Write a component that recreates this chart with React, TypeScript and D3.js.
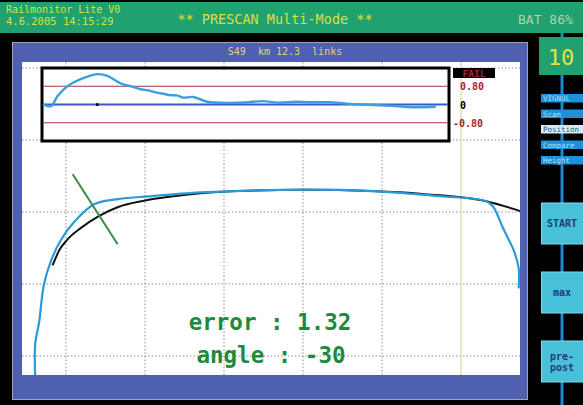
import * as d3 from "d3";

const W = 583;
const H = 405;

// top inset: deviation along the scan (x in % of scan, deviation in mm)
const devPos = [0, 2, 3.6, 6.1, 9.3, 13.4, 15.9, 19.2, 22, 24.1, 26, 28.2, 30, 31.4, 33, 34.6, 37.1, 40.5, 46.2, 50, 54.3, 58, 62.6, 66, 70.8, 74.9, 78.9, 83, 87.1, 91.2, 97];
const devVal = [0, -0.07, 0.37, 0.81, 1.11, 1.33, 1.26, 0.92, 0.78, 0.67, 0.62, 0.52, 0.46, 0.41, 0.4, 0.3, 0.33, 0.12, 0.07, 0.09, 0.15, 0.08, 0.12, 0.1, 0.1, 0.04, 0, -0.03, -0.07, -0.12, -0.1];
const devLimits = [0.8, -0.8];
const devLabels = ["0.80", "0", "-0.80"];

// main profile: reference (black) and measured (blue), mm
const refX = [-1.7, -1.5, -0.9, 0.2, 1.9, 4.1, 6.6, 10, 15.2, 21.5, 30.1, 38.7, 45.1, 53.2, 57.6];
const refY = [-7.4, -6.9, -5.4, -3.8, -2.2, -0.6, 0.7, 1.6, 2.4, 2.9, 3.1, 2.9, 2.5, 1.5, 0.1];
const measX = [-3.9, -3.9, -3.4, -2.8, -1.9, -0.7, 1.1, 3.6, 6.6, 10.9, 15.2, 21.5, 30.1, 38.7, 47.2, 53.2, 54.1, 55.3, 56.7, 57.3, 57.3];
const measY = [-22.8, -18.3, -15.3, -10.1, -6.8, -4, -1.3, 1.1, 1.8, 2.2, 2.6, 2.9, 3.1, 2.9, 2.2, 1.5, 0.7, -2.2, -5.4, -7.8, -10.6];

// angle marker (green)
const markerX = [0.85, 6.54];
const markerY = [5.24, -4.49];

const gridX = [0, 10, 20, 30, 40];
const markX = 50;
const gridY = [20, 10, 0, -10, -20];

const menuItems = ["VIGNOL", "Scan", "Position", "Compare", "Height"];
const buttons = [["START"], ["max"], ["pre-", "post"]];

const mono = "'DejaVu Sans Mono', monospace";

export default function App() {
  const x = d3.scaleLinear().domain([0, 60]).range([66, 540]);
  const y = d3.scaleLinear().domain([-20, 20]).range([356, 68]);

  const ix = d3.scaleLinear().domain([0, 100]).range([43, 448]);
  const iy = d3.scaleLinear().domain([-1.6, 1.6]).range([141, 68]);

  const line = d3.line<[number, number]>().x((d) => x(d[0])).y((d) => y(d[1])).curve(d3.curveMonotoneX);
  const lineY = d3.line<[number, number]>().x((d) => x(d[0])).y((d) => y(d[1])).curve(d3.curveCatmullRom);
  const devLine = d3.line<[number, number]>().x((d) => ix(d[0])).y((d) => iy(d[1])).curve(d3.curveCatmullRom);

  const refPts = refX.map((v, i) => [v, refY[i]] as [number, number]);
  const measPts = measX.map((v, i) => [v, measY[i]] as [number, number]);
  const devPts = devPos.map((v, i) => [v, devVal[i]] as [number, number]);

  return (
    <svg width={W} height={H} style={{ position: "absolute", left: 0, top: 0, background: "#000" }} fontFamily={mono}>
      <defs>
        <clipPath id="plot">
          <rect x={22} y={62} width={498} height={313} />
        </clipPath>
      </defs>

      {/* header */}
      <rect x={0} y={2} width={W} height={31} fill="#21a070" />
      <text x={6} y={13} fontSize={10} fill="#d8e040">Railmonitor Lite V0</text>
      <text x={6} y={25} fontSize={10.5} fill="#d8e040">4.6.2005 14:15:29</text>
      <text x={275} y={24} fontSize={13.5} fill="#d8e040" textAnchor="middle">** PRESCAN Multi-Mode **</text>
      <text x={518} y={24} fontSize={13} fill="#a8d8a8">BAT 86%</text>

      {/* main panel */}
      <rect x={12.5} y={42.5} width={515} height={357} fill="#5060b0" stroke="#a0a4b4" />
      <text x={285} y={55} fontSize={10} fill="#e0d080" textAnchor="middle" xmlSpace="preserve">S49  km 12.3  links</text>
      <rect x={22} y={62} width={498} height={313} fill="#fff" />

      <g clipPath="url(#plot)">
        {gridX.map((g) => (
          <line key={"gx" + g} x1={x(g)} x2={x(g)} y1={62} y2={375} stroke="#8a8fa0" strokeDasharray="1.5,2" />
        ))}
        {gridY.map((g) => (
          <line key={"gy" + g} x1={22} x2={520} y1={y(g)} y2={y(g)} stroke="#8a8fa0" strokeDasharray="1.5,2" />
        ))}
        <line x1={x(markX)} x2={x(markX)} y1={62} y2={375} stroke="#e4dcae" strokeWidth={1.5} />

        <path d={line(refPts) ?? ""} fill="none" stroke="#111" strokeWidth={2} />
        <path d={lineY(measPts) ?? ""} fill="none" stroke="#2a9ad8" strokeWidth={2.2} />
        <line x1={x(markerX[0])} y1={y(markerY[0])} x2={x(markerX[1])} y2={y(markerY[1])} stroke="#3a8a44" strokeWidth={2} />

        <text x={270} y={330} fontSize={22.5} fontWeight="bold" fill="#1d8a3c" textAnchor="middle" xmlSpace="preserve">error : 1.32</text>
        <text x={271} y={363} fontSize={22.5} fontWeight="bold" fill="#1d8a3c" textAnchor="middle" xmlSpace="preserve">angle : -30</text>
      </g>

      {/* deviation inset */}
      <rect x={42} y={68} width={407} height={73} fill="#fff" stroke="#000" strokeWidth={3} />
      {devLimits.map((l) => (
        <line key={"lim" + l} x1={43} x2={448} y1={iy(l)} y2={iy(l)} stroke="#b03040" strokeWidth={1} />
      ))}
      <line x1={43} x2={448} y1={iy(0)} y2={iy(0)} stroke="#3a5ac8" strokeWidth={2} />
      <circle cx={ix(13.4)} cy={iy(0)} r={1.5} fill="#000" />
      <path d={devLine(devPts) ?? ""} fill="none" stroke="#3aa0dc" strokeWidth={2.4} />

      <rect x={453} y={68} width={42} height={10} fill="#000" />
      <text x={474} y={76.5} fontSize={9.5} fontWeight="bold" fill="#b02030" textAnchor="middle">FAIL</text>
      <text x={460} y={iy(devLimits[0]) + 4} fontSize={10} fontWeight="bold" fill="#b02030">{devLabels[0]}</text>
      <text x={460} y={iy(0) + 4} fontSize={10} fontWeight="bold" fill="#000">{devLabels[1]}</text>
      <text x={453} y={iy(devLimits[1]) + 4} fontSize={10} fontWeight="bold" fill="#b02030">{devLabels[2]}</text>

      {/* side bar */}
      <line x1={562} x2={562} y1={33} y2={H} stroke="#1e88d0" strokeWidth={3} />
      <rect x={539} y={37} width={44} height={38} fill="#21a070" />
      <text x={561} y={65} fontSize={22} fill="#e8e040" textAnchor="middle">10</text>

      {menuItems.map((m, i) => (
        <g key={m}>
          <rect x={541} y={94 + i * 15.5} width={42} height={8.5} fill={i === 2 ? "#dde8f2" : "#2090d8"} />
          <text x={543} y={101 + i * 15.5} fontSize={7.5} fill={i === 2 ? "#2060a0" : "#a0e0f8"}>{m}</text>
        </g>
      ))}

      {buttons.map((b, i) => {
        const top = 203 + i * 69;
        return (
          <g key={b.join("")}>
            <rect x={541.5} y={top} width={42} height={41} fill="#48c0d8" stroke="#80d8e8" />
            {b.map((t, j) => (
              <text key={t} x={562} y={top + 24 - (b.length - 1) * 5 + j * 11} fontSize={10} fontWeight="bold" fill="#1e3c78" textAnchor="middle">{t}</text>
            ))}
          </g>
        );
      })}
    </svg>
  );
}
